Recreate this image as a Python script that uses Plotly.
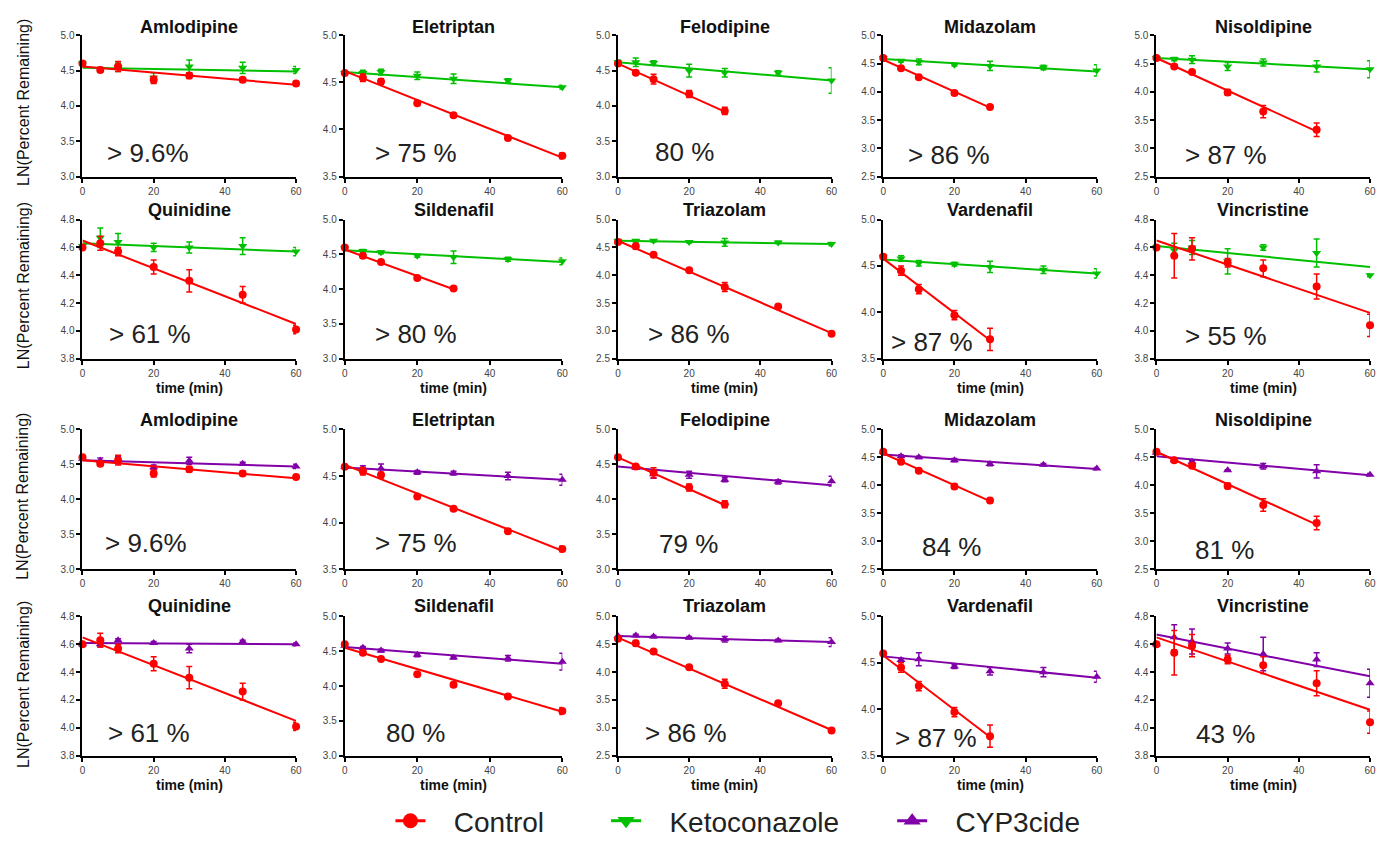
import plotly.graph_objects as go

W, H = 1381, 846

times = [0, 5, 10, 20, 30, 45, 60]
drugs = ["Amlodipine", "Eletriptan", "Felodipine", "Midazolam", "Nisoldipine",
         "Quinidine", "Sildenafil", "Triazolam", "Vardenafil", "Vincristine"]

# y-axis ranges and tick steps per drug
y_min = [3.0, 3.5, 3.0, 2.5, 2.5, 3.8, 3.0, 2.5, 3.5, 3.8]
y_max = [5.0, 5.0, 5.0, 5.0, 5.0, 4.8, 5.0, 5.0, 5.0, 4.8]
y_step = [0.5, 0.5, 0.5, 0.5, 0.5, 0.2, 0.5, 0.5, 0.5, 0.2]

# Control (LN percent remaining), used with Ketoconazole panels
ctrl_mean = [
    [4.60, 4.51, 4.56, 4.37, 4.43, 4.37, 4.32],
    [4.60, 4.55, 4.51, 4.28, 4.15, 3.91, 3.72],
    [4.60, 4.47, 4.38, 4.17, 3.93, None, None],
    [4.60, 4.42, 4.26, 3.98, 3.73, None, None],
    [4.60, 4.45, 4.35, 3.99, 3.65, 3.33, None],
    [4.60, 4.63, 4.57, 4.46, 4.36, 4.26, 4.01],
    [4.60, 4.48, 4.39, 4.16, 4.01, None, None],
    [4.60, 4.52, 4.37, 4.09, 3.79, 3.44, 2.95],
    [4.60, 4.45, 4.25, 3.97, 3.71, None, None],
    [4.60, 4.54, 4.59, 4.49, 4.45, 4.32, 4.04],
]
ctrl_sd = [
    [0.02, 0.03, 0.07, 0.05, 0.04, 0.03, 0.03],
    [0.02, 0.04, 0.03, 0.02, 0.02, 0.02, 0.03],
    [0.03, 0.02, 0.07, 0.05, 0.05, None, None],
    [0.03, 0.02, 0.02, 0.04, 0.04, None, None],
    [0.02, 0.02, 0.02, 0.05, 0.11, 0.12, None],
    [0.01, 0.05, 0.03, 0.05, 0.08, 0.06, 0.03],
    [0.02, 0.03, 0.02, 0.02, 0.02, None, None],
    [0.02, 0.05, 0.02, 0.02, 0.08, 0.02, 0.02],
    [0.02, 0.05, 0.05, 0.05, 0.12, None, None],
    [0.01, 0.16, 0.08, 0.03, 0.06, 0.09, 0.08],
]
# Control fit line: value at t=0 and at last time point
ctrl_fit_start = [4.56, 4.62, 4.60, 4.57, 4.60, 4.65, 4.57, 4.62, 4.58, 4.65]
ctrl_fit_end = [4.30, 3.70, 3.92, 3.72, 3.30, 4.05, 4.00, 2.96, 3.70, 4.13]
ctrl_fit_t = [60, 60, 30, 30, 45, 60, 30, 60, 30, 60]

# Control used with CYP3cide panels (Sildenafil run extends to 60 min)
ctrl2_sild_mean = [4.60, 4.48, 4.39, 4.17, 4.02, 3.85, 3.64]
ctrl2_sild_sd = [0.02, 0.03, 0.02, 0.02, 0.03, 0.02, 0.05]
ctrl2_sild_fit = [4.55, 3.63]

keto_mean = [
    [4.60, 4.52, 4.55, 4.40, 4.56, 4.54, 4.51],
    [4.60, 4.60, 4.61, 4.57, 4.54, 4.52, 4.45],
    [4.62, 4.62, 4.61, 4.50, 4.47, 4.47, 4.36],
    [4.60, 4.55, 4.53, 4.48, 4.46, 4.43, 4.38],
    [4.60, 4.58, 4.57, 4.45, 4.52, 4.45, 4.40],
    [4.61, 4.67, 4.64, 4.60, 4.60, 4.61, 4.57],
    [4.59, 4.55, 4.53, 4.48, 4.46, 4.43, 4.40],
    [4.62, 4.62, 4.62, 4.60, 4.59, 4.59, 4.56],
    [4.60, 4.58, 4.53, 4.52, 4.49, 4.46, 4.42],
    [4.60, 4.58, 4.60, 4.50, 4.60, 4.56, 4.40],
]
keto_sd = [
    [0.03, 0.03, 0.06, 0.07, 0.09, 0.08, 0.05],
    [0.02, 0.03, 0.03, 0.04, 0.05, 0.02, 0.02],
    [0.03, 0.06, 0.03, 0.09, 0.06, 0.03, 0.18],
    [0.03, 0.02, 0.05, 0.02, 0.08, 0.04, 0.10],
    [0.02, 0.03, 0.07, 0.07, 0.06, 0.10, 0.15],
    [0.01, 0.07, 0.06, 0.03, 0.04, 0.06, 0.03],
    [0.02, 0.02, 0.02, 0.02, 0.09, 0.03, 0.05],
    [0.02, 0.02, 0.02, 0.02, 0.07, 0.02, 0.03],
    [0.02, 0.03, 0.03, 0.02, 0.06, 0.04, 0.05],
    [0.01, 0.05, 0.05, 0.09, 0.02, 0.10, 0.01],
]
keto_fit_start = [4.54, 4.61, 4.62, 4.58, 4.60, 4.63, 4.56, 4.62, 4.57, 4.61]
keto_fit_end = [4.49, 4.45, 4.36, 4.36, 4.40, 4.57, 4.39, 4.56, 4.42, 4.46]

cyp_mean = [
    [4.58, 4.55, 4.56, 4.46, 4.55, 4.51, 4.47],
    [4.60, 4.58, 4.58, 4.54, 4.53, 4.50, 4.46],
    [None, 4.45, 4.36, 4.35, 4.28, 4.25, 4.26],
    [4.60, 4.52, 4.50, 4.45, 4.38, 4.37, 4.30],
    [4.58, 4.45, 4.42, 4.27, 4.34, 4.25, 4.19],
    [4.60, 4.60, 4.63, 4.61, 4.57, 4.62, 4.60],
    [4.58, 4.55, 4.51, 4.45, 4.41, 4.40, 4.35],
    [4.65, 4.66, 4.64, 4.62, 4.59, 4.57, 4.54],
    [None, 4.53, 4.54, 4.46, 4.41, 4.40, 4.35],
    [4.60, 4.65, 4.62, 4.57, 4.53, 4.49, 4.32],
]
cyp_sd = [
    [0.02, 0.04, 0.05, 0.03, 0.05, 0.02, 0.03],
    [0.02, 0.03, 0.05, 0.02, 0.02, 0.04, 0.06],
    [None, 0.02, 0.06, 0.05, 0.03, 0.03, 0.07],
    [0.02, 0.02, 0.02, 0.03, 0.03, 0.02, 0.02],
    [0.02, 0.02, 0.03, 0.01, 0.05, 0.12, 0.02],
    [0.01, 0.02, 0.01, 0.01, 0.03, 0.01, 0.01],
    [0.02, 0.02, 0.02, 0.03, 0.02, 0.04, 0.12],
    [0.01, 0.02, 0.02, 0.02, 0.05, 0.02, 0.08],
    [None, 0.02, 0.07, 0.02, 0.04, 0.05, 0.06],
    [0.01, 0.09, 0.09, 0.04, 0.12, 0.05, 0.10],
]
cyp_fit_start = [4.56, 4.59, 4.47, 4.55, 4.52, 4.61, 4.56, 4.65, 4.57, 4.67]
cyp_fit_end = [4.47, 4.46, 4.20, 4.29, 4.18, 4.60, 4.32, 4.54, 4.34, 4.37]

keto_labels = ["> 9.6%", "> 75 %", "80 %", "> 86 %", "> 87 %",
               "> 61 %", "> 80 %", "> 86 %", "> 87 %", "> 55 %"]
cyp_labels = ["> 9.6%", "> 75 %", "79 %", "84 %", "81 %",
              "> 61 %", "80 %", "> 86 %", "> 87 %", "43 %"]

# ---------------- layout geometry (pixels) ----------------
col_px = [(80, 295), (344, 563), (619, 834), (886, 1101), (1161, 1376)]
row_px = [(30, 174), (218, 360), (432, 575), (623, 765)]
title_py = [21, 208, 422, 612]
label_pos = [  # centre of the percentage label per panel (px)
    [(146, 150), (416, 150), (686, 149), (952, 152), (1231, 152)],
    [(148, 335), (416, 335), (690, 335), (935, 343), (1231, 337)],
    [(144, 548), (416, 548), (690, 549), (955, 552), (1230, 555)],
    [(147, 742), (415, 742), (687, 742), (939, 747), (1231, 743)],
]
ylab_py = [98, 285, 500, 692]

RED = "#ff0000"
GREEN = "#00c000"
PURPLE = "#8200a8"

def px_x(p):
    return p / W

def px_y(p):
    return 1 - p / H

fig = go.Figure()
annotations = []

def add_series(idx, mean, sd, fit0, fit1, fit_t, color, symbol):
    xa = "x" if idx == 1 else f"x{idx}"
    ya = "y" if idx == 1 else f"y{idx}"
    fig.add_trace(go.Scatter(
        x=[0, fit_t], y=[fit0, fit1], mode="lines",
        line=dict(color=color, width=2), xaxis=xa, yaxis=ya,
        showlegend=False, hoverinfo="skip"))
    xs = [t for t, m in zip(times, mean) if m is not None]
    ys = [m for m in mean if m is not None]
    es = [s for m, s in zip(mean, sd) if m is not None]
    fig.add_trace(go.Scatter(
        x=xs, y=ys, mode="markers",
        marker=dict(color=color, size=8, symbol=symbol, line=dict(width=0)),
        error_y=dict(type="data", array=es, visible=True, color=color,
                     thickness=1.5, width=3),
        xaxis=xa, yaxis=ya, showlegend=False, cliponaxis=False))

for r in range(4):
    for c in range(5):
        idx = r * 5 + c + 1
        d = (r % 2) * 5 + c
        x0, x1 = col_px[c]
        yt, yb = row_px[r]
        xkey = "xaxis" if idx == 1 else f"xaxis{idx}"
        ykey = "yaxis" if idx == 1 else f"yaxis{idx}"
        xa = "x" if idx == 1 else f"x{idx}"
        ya = "y" if idx == 1 else f"y{idx}"
        axis_common = dict(showline=True, linecolor="black", linewidth=2,
                           ticks="outside", ticklen=4, tickwidth=1.5,
                           tickcolor="black", showgrid=False, zeroline=False,
                           tickfont=dict(family="Arial", size=10, color="#444"))
        fig.layout[xkey] = dict(domain=[px_x(x0), px_x(x1)], anchor=ya,
                                range=[0, 60], tickvals=[0, 20, 40, 60],
                                **axis_common)
        fig.layout[ykey] = dict(domain=[px_y(yb), px_y(yt)], anchor=xa,
                                range=[y_min[d], y_max[d]], dtick=y_step[d],
                                tick0=y_min[d], tickformat=".1f",
                                **axis_common)

        if r < 2:
            add_series(idx, keto_mean[d], keto_sd[d], keto_fit_start[d],
                       keto_fit_end[d], 60, GREEN, "triangle-down")
            add_series(idx, ctrl_mean[d], ctrl_sd[d], ctrl_fit_start[d],
                       ctrl_fit_end[d], ctrl_fit_t[d], RED, "circle")
            lab = keto_labels[d]
        else:
            add_series(idx, cyp_mean[d], cyp_sd[d], cyp_fit_start[d],
                       cyp_fit_end[d], 60, PURPLE, "triangle-up")
            if drugs[d] == "Sildenafil":
                add_series(idx, ctrl2_sild_mean, ctrl2_sild_sd,
                           ctrl2_sild_fit[0], ctrl2_sild_fit[1], 60, RED, "circle")
            else:
                add_series(idx, ctrl_mean[d], ctrl_sd[d], ctrl_fit_start[d],
                           ctrl_fit_end[d], ctrl_fit_t[d], RED, "circle")
            lab = cyp_labels[d]

        # panel title
        annotations.append(dict(
            text=f"<b>{drugs[d]}</b>", x=px_x((x0 + x1) / 2), y=px_y(title_py[r]),
            xref="paper", yref="paper", showarrow=False,
            font=dict(family="Arial", size=18, color="#111"),
            xanchor="center", yanchor="middle"))
        # percentage label
        lx, ly = label_pos[r][c]
        annotations.append(dict(
            text=lab, x=px_x(lx), y=px_y(ly), xref="paper", yref="paper",
            showarrow=False, font=dict(family="Arial", size=26, color="#222"),
            xanchor="center", yanchor="middle"))
        # x-axis title on rows 2 and 4
        if r % 2 == 1:
            annotations.append(dict(
                text="<b>time (min)</b>", x=px_x((x0 + x1) / 2),
                y=px_y(yb + 30), xref="paper", yref="paper", showarrow=False,
                font=dict(family="Arial", size=14, color="#111"),
                xanchor="center", yanchor="middle"))
    # y-axis label per row
    annotations.append(dict(
        text="LN(Percent Remaining)", x=px_x(20), y=px_y(ylab_py[r]),
        xref="paper", yref="paper", showarrow=False, textangle=-90,
        font=dict(family="Arial", size=16, color="#111"),
        xanchor="center", yanchor="middle"))

# legend entries
legend_names = ["\u00a0\u00a0\u00a0Control", "\u00a0\u00a0\u00a0Ketoconazole",
                "\u00a0\u00a0\u00a0CYP3cide"]
legend_colors = [RED, GREEN, PURPLE]
legend_symbols = ["circle", "triangle-down", "triangle-up"]
legend_keys = ["legend", "legend2", "legend3"]
legend_px = [390, 607, 895]
for name, col, sym, key in zip(legend_names, legend_colors, legend_symbols, legend_keys):
    fig.add_trace(go.Scatter(
        x=[None], y=[None], mode="lines+markers", name=name,
        line=dict(color=col, width=3),
        marker=dict(color=col, size=15, symbol=sym),
        legend=key, showlegend=True))

leg_common = dict(orientation="h", yanchor="middle", xanchor="left",
                  font=dict(family="Arial", size=28, color="#222"),
                  bgcolor="rgba(0,0,0,0)", borderwidth=0)
for key, lp in zip(legend_keys, legend_px):
    fig.layout[key] = dict(x=px_x(lp), y=px_y(832), **leg_common)

fig.update_layout(
    width=W, height=H, margin=dict(l=0, r=0, t=0, b=0),
    paper_bgcolor="white", plot_bgcolor="white",
    annotations=annotations, showlegend=True,
)

fig.write_html("out.html", config={"displayModeBar": False},
               post_script="document.body.style.margin='0px';")
